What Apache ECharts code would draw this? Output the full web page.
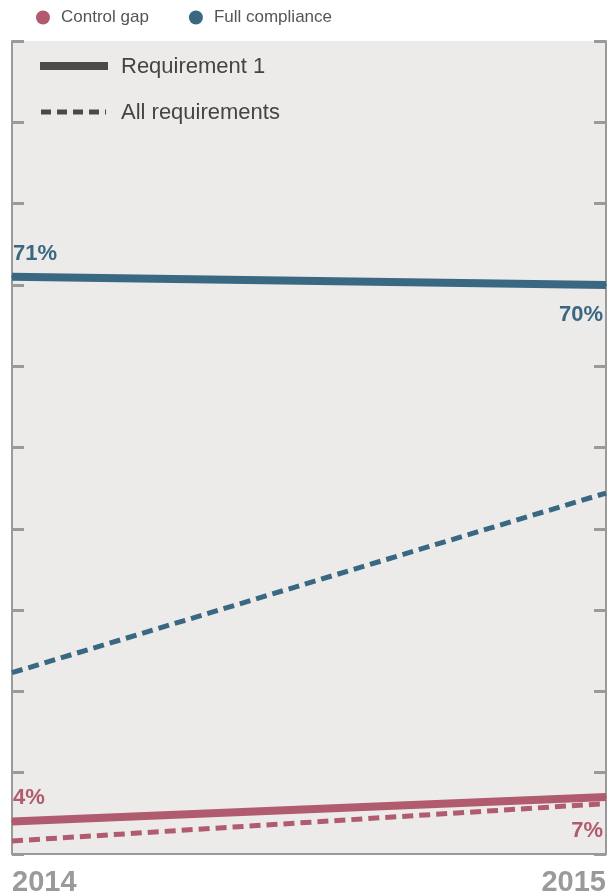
<!DOCTYPE html>
<html>
<head>
<meta charset="utf-8">
<script src="https://cdn.jsdelivr.net/npm/echarts@6/dist/echarts.min.js"></script>
<style>
  html, body { margin: 0; padding: 0; background: #fff; }
  #chart { width: 613px; height: 894px; }
</style>
</head>
<body>
<div id="chart"></div>
<script>
// Years on the x axis
const years = ['2014', '2015'];

// Share of organisations (%), per requirement scope
const gapReq1 = [4, 7];          // Control gap, Requirement 1
const gapAll = [1.6, 6.2];       // Control gap, all requirements
const fullReq1 = [71, 70];       // Full compliance, Requirement 1
const fullAll = [22.3, 44.4];    // Full compliance, all requirements

// Y axis scale (ticks without labels)
const yMin = 0, yMax = 100, yStep = 10;

const RED = '#b05c6e';
const BLUE = '#3a6882';
const AXIS = '#9a9a9a';
const FONT = '"Liberation Sans", Arial, sans-serif';

// Attach value labels to chosen points
function withLabels(values, labelCfg) {
  return values.map((v, i) => labelCfg[i]
    ? { value: v, label: Object.assign({ show: true, formatter: '{c}%' }, labelCfg[i]) }
    : v);
}

const valueLabel = (color) => ({
  color: color, fontFamily: FONT, fontSize: 22, fontWeight: 'bold'
});

// Small point markers hidden under the thick line carry the value labels
function lineSeries(name, color, width, dashed, data) {
  return {
    name: name, type: 'line',
    symbol: dashed ? 'none' : 'circle', symbolSize: 2, showSymbol: !dashed,
    lineStyle: { color: color, width: width, type: dashed ? [11, 6] : 'solid', cap: 'butt' },
    itemStyle: { color: color },
    data: data
  };
}

const chart = echarts.init(document.getElementById('chart'), null, { renderer: 'canvas' });

chart.setOption({
  animation: false,
  textStyle: { fontFamily: FONT },
  legend: {
    left: 36, top: 9, padding: 0,
    icon: 'circle', itemWidth: 14, itemHeight: 14, itemGap: 40,
    data: ['Control gap', 'Full compliance'],
    textStyle: { color: '#555', fontSize: 17, fontFamily: FONT, padding: [0, 0, 0, 6] }
  },
  grid: {
    left: 12, right: 7, top: 41, bottom: 40,
    outerBoundsMode: 'none', containLabel: false,
    show: true, backgroundColor: '#ecebe9', borderWidth: 0
  },
  xAxis: {
    type: 'category', data: years, boundaryGap: false,
    axisLine: { show: true, lineStyle: { color: AXIS, width: 2 } },
    axisTick: { show: false },
    splitLine: { show: false },
    axisLabel: {
      color: '#9a9a9a', fontSize: 29, fontWeight: 'bold', fontFamily: FONT,
      margin: 14, alignMinLabel: 'left', alignMaxLabel: 'right'
    }
  },
  yAxis: [0, 1].map(i => ({
    type: 'value', min: yMin, max: yMax, interval: yStep,
    position: i === 0 ? 'left' : 'right',
    axisLine: { show: true, lineStyle: { color: AXIS, width: 2 } },
    axisTick: { show: true, inside: true, length: 12, lineStyle: { color: AXIS, width: 3 } },
    axisLabel: { show: false },
    splitLine: { show: false }
  })),
  series: [
    lineSeries('Full compliance', BLUE, 8, false, withLabels(fullReq1, [
      Object.assign(valueLabel(BLUE), { position: 'top', align: 'left', distance: 11, offset: [1, 0] }),
      Object.assign(valueLabel(BLUE), { position: 'bottom', align: 'right', distance: 18, offset: [-3, 0] })
    ])),
    lineSeries('Full compliance', BLUE, 5, true, fullAll),
    lineSeries('Control gap', RED, 8, false, withLabels(gapReq1, [
      Object.assign(valueLabel(RED), { position: 'top', align: 'left', distance: 12, offset: [1, 0] }),
      Object.assign(valueLabel(RED), { position: 'bottom', align: 'right', distance: 22, offset: [-3, 0] })
    ])),
    lineSeries('Control gap', RED, 5, true, gapAll)
  ],
  graphic: [
    // Line-style key inside the plot
    { type: 'line', shape: { x1: 40, y1: 66, x2: 108, y2: 66 }, style: { stroke: '#4a4a4a', lineWidth: 8 } },
    { type: 'text', left: 121, top: 56, style: { text: 'Requirement 1', fill: '#444', fontSize: 22, fontFamily: FONT } },
    { type: 'line', shape: { x1: 41, y1: 112, x2: 106, y2: 112 }, style: { stroke: '#4a4a4a', lineWidth: 5, lineDash: [10, 6] } },
    { type: 'text', left: 121, top: 102, style: { text: 'All requirements', fill: '#444', fontSize: 22, fontFamily: FONT } }
  ]
});
</script>
</body>
</html>
